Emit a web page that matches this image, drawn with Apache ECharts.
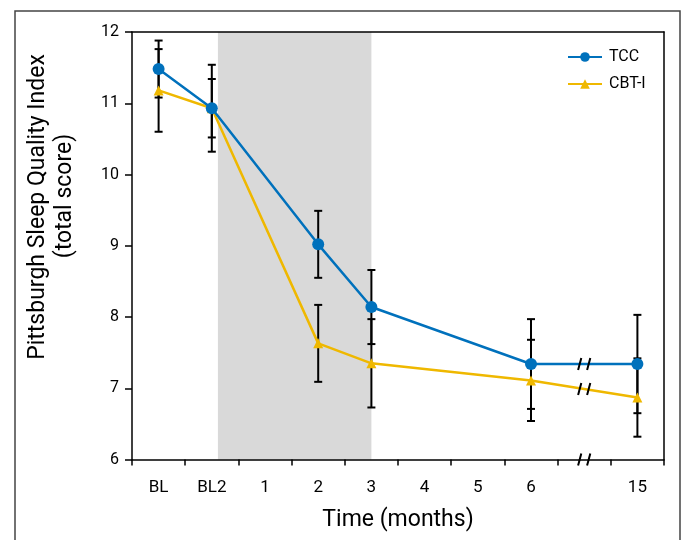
<!DOCTYPE html>
<html>
<head>
<meta charset="utf-8">
<script src="https://cdn.jsdelivr.net/npm/echarts@6/dist/echarts.min.js"></script>
<style>html,body{margin:0;padding:0;background:#fff}#c{width:684px;height:540px}</style>
</head>
<body>
<div id="c"></div>
<script>
// ---- data ----
var categories = ['BL', 'BL2', '1', '2', '3', '4', '5', '6', '', '15'];
var tccMean = [11.48, 10.93, null, 9.02, 8.14, null, null, 7.34, null, 7.34];
var tccErr  = [0.40, 0.61, null, 0.47, 0.52, null, null, 0.63, null, 0.69];
var cbtMean = [11.18, 10.93, null, 7.63, 7.35, null, null, 7.11, null, 6.87];
var cbtErr  = [0.58, 0.41, null, 0.54, 0.62, null, null, 0.57, null, 0.55];
var yTicks = [6, 7, 8, 9, 10, 11, 12];
var shadeRange = [1.115, 4.0]; // intervention period, in category-index units
var breakIndex = 8;

var FONT = 'Roboto, "Liberation Sans", sans-serif';
var BLUE = '#0071BC', YELLOW = '#EFB800';

function errData(mean, err) {
  var out = [];
  for (var i = 0; i < mean.length; i++) {
    if (mean[i] != null) out.push([i, mean[i] - err[i], mean[i] + err[i]]);
  }
  return out;
}
var yMin = yTicks[0], yMax = yTicks[yTicks.length - 1];
var breakData = [
  [breakIndex, (tccMean[breakIndex - 1] + tccMean[breakIndex + 1]) / 2],
  [breakIndex, (cbtMean[breakIndex - 1] + cbtMean[breakIndex + 1]) / 2],
  [breakIndex, yMin]
];

function renderErr(params, api) {
  var x = api.value(0);
  var lo = api.coord([x, api.value(1)]);
  var hi = api.coord([x, api.value(2)]);
  var w = 4;
  var st = {stroke: '#000', lineWidth: 2};
  return {type: 'group', children: [
    {type: 'line', shape: {x1: lo[0], y1: lo[1], x2: hi[0], y2: hi[1]}, style: st},
    {type: 'line', shape: {x1: lo[0] - w, y1: lo[1], x2: lo[0] + w, y2: lo[1]}, style: st},
    {type: 'line', shape: {x1: hi[0] - w, y1: hi[1], x2: hi[0] + w, y2: hi[1]}, style: st}
  ]};
}
function renderBreak(params, api) {
  var p = api.coord([api.value(0), api.value(1)]);
  var st = {stroke: '#000', lineWidth: 2};
  var h = 6, s = 1.6, g = 4.5;
  return {type: 'group', children: [
    {type: 'line', shape: {x1: p[0] - g - s, y1: p[1] + h, x2: p[0] - g + s, y2: p[1] - h}, style: st},
    {type: 'line', shape: {x1: p[0] + g - s, y1: p[1] + h, x2: p[0] + g + s, y2: p[1] - h}, style: st}
  ]};
}

var chart = echarts.init(document.getElementById('c'), null, {renderer: 'canvas'});
chart.setOption({
  animation: false,
  textStyle: {fontFamily: FONT},
  grid: {left: 132, right: 20, top: 32, bottom: 80.5},
  legend: {
    left: 567, top: 49, padding: 0, orient: 'vertical', itemWidth: 34, itemHeight: 12, itemGap: 11,
    textStyle: {fontFamily: FONT, fontSize: 16, color: '#000', padding: [0, 0, 0, 2]},
    data: ['TCC', 'CBT-I']
  },
  xAxis: [{
    type: 'category', data: categories, boundaryGap: true,
    axisLine: {onZero: false, lineStyle: {color: '#000', width: 1.5}},
    axisTick: {show: true, length: 6, lineStyle: {color: '#000', width: 1.5}},
    axisLabel: {color: '#000', fontSize: 17, fontFamily: FONT, margin: 20},
    name: 'Time (months)', nameLocation: 'middle', nameGap: 49,
    nameTextStyle: {fontSize: 23, color: '#000', fontFamily: FONT},
    z: 10
  }, {
    type: 'value', min: -0.5, max: categories.length - 0.5, position: 'top',
    axisLine: {show: true, onZero: false, lineStyle: {color: '#000', width: 1.5}},
    axisTick: {show: false}, axisLabel: {show: false}, splitLine: {show: false},
    z: 10
  }],
  yAxis: [{
    type: 'value', min: yMin, max: yMax, interval: 1, position: 'left',
    axisLine: {show: true, onZero: false, lineStyle: {color: '#000', width: 1.5}},
    axisTick: {show: true, length: 7, lineStyle: {color: '#000', width: 1.5}},
    axisLabel: {color: '#000', fontSize: 16, fontFamily: FONT, margin: 13},
    splitLine: {show: false}, z: 10
  }, {
    type: 'value', min: yMin, max: yMax, position: 'right',
    axisLine: {show: true, onZero: false, lineStyle: {color: '#000', width: 1.5}},
    axisTick: {show: false}, axisLabel: {show: false}, splitLine: {show: false}, z: 10
  }],
  graphic: [{
    type: 'rect', left: 12.5, top: 8.5, z: 100,
    shape: {width: 665, height: 560},
    style: {fill: 'none', stroke: '#444', lineWidth: 1.5}
  }, {
    type: 'text', x: 50, y: 207, rotation: Math.PI / 2, z: 100,
    style: {text: 'Pittsburgh Sleep Quality Index', font: '23px ' + FONT, fill: '#000',
            align: 'center', verticalAlign: 'bottom'}
  }, {
    type: 'text', x: 77, y: 196, rotation: Math.PI / 2, z: 100,
    style: {text: '(total score)', font: '23px ' + FONT, fill: '#000',
            align: 'center', verticalAlign: 'bottom'}
  }],
  series: [{
    type: 'line', name: 'shade', xAxisIndex: 1, data: [], silent: true,
    markArea: {silent: true, itemStyle: {color: '#D9D9D9'},
      data: [[{xAxis: shadeRange[0]}, {xAxis: shadeRange[1]}]]}, z: 0
  }, {
    type: 'custom', name: 'errTCC', renderItem: renderErr, data: errData(tccMean, tccErr),
    encode: {x: 0, y: [1, 2]}, z: 1, silent: true
  }, {
    type: 'custom', name: 'errCBT', renderItem: renderErr, data: errData(cbtMean, cbtErr),
    encode: {x: 0, y: [1, 2]}, z: 1, silent: true
  }, {
    type: 'line', name: 'TCC', data: tccMean, connectNulls: true,
    symbol: 'circle', symbolSize: 12, showSymbol: true,
    lineStyle: {color: BLUE, width: 2.5}, itemStyle: {color: BLUE}, z: 3
  }, {
    type: 'line', name: 'CBT-I', data: cbtMean, connectNulls: true,
    symbol: 'triangle', symbolSize: 10, showSymbol: true,
    lineStyle: {color: YELLOW, width: 2.5}, itemStyle: {color: YELLOW}, z: 2
  }, {
    type: 'custom', name: 'breaks', renderItem: renderBreak, data: breakData,
    encode: {x: 0, y: 1}, z: 20, silent: true, clip: false
  }]
});
</script>
</body>
</html>
